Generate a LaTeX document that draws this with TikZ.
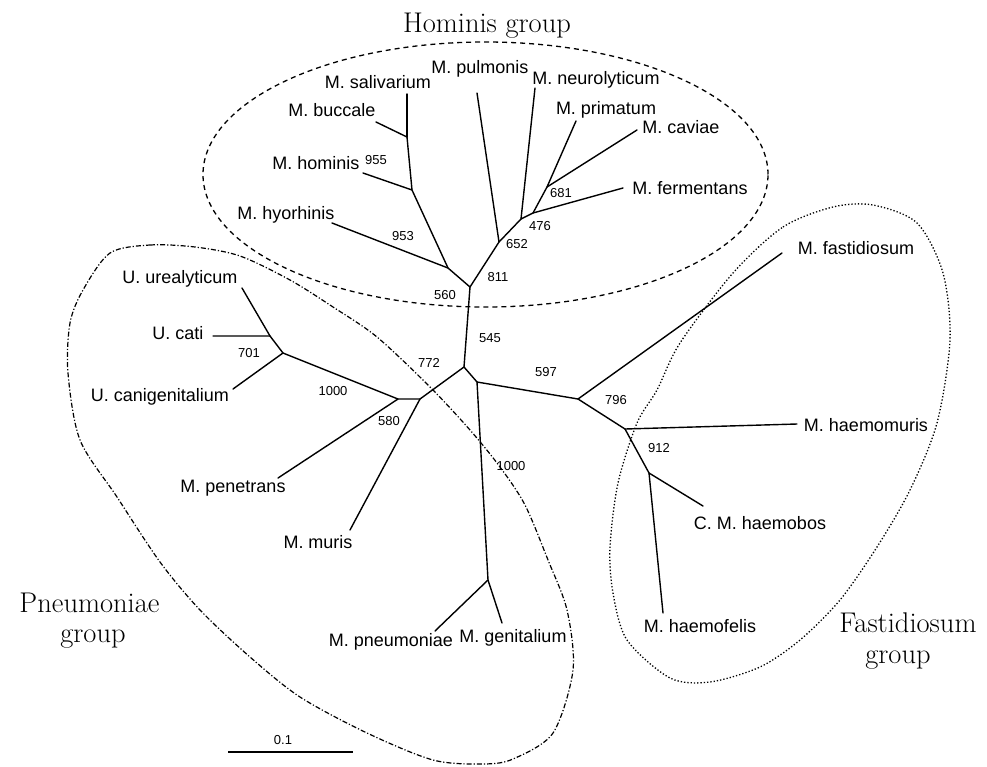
\documentclass[tikz,border=0pt]{standalone}
\usepackage{fontspec}
\newfontfamily\lab{Liberation Sans}
\begin{document}
\begin{tikzpicture}[x=1pt,y=-1pt,
  br/.style={line width=1.4pt, line cap=round, line join=round},
  leaf/.style={font=\lab\fontsize{18}{20}\selectfont, inner sep=0pt, text height=13pt, text depth=0pt},
  bs/.style={font=\lab\fontsize{13}{15}\selectfont, inner sep=0pt, text height=9.4pt, text depth=0pt},
  grp/.style={font=\fontsize{28.5}{31}\selectfont, inner sep=0pt, anchor=base},
  homline/.style={line width=1.3pt, dash pattern=on 5pt off 4pt},
  pneline/.style={line width=1.2pt, dash pattern=on 5pt off 2pt on 1.2pt off 2pt},
  fasline/.style={line width=1.3pt, dash pattern=on 1.3pt off 2pt}]
\useasboundingbox (0,0) rectangle (987,766);
\fill[white] (0,0) rectangle (987,766);

% group outlines
\draw[homline] (485.5,174.5) ellipse [x radius=282.5pt, y radius=132.5pt];
\draw[pneline] plot[smooth cycle] coordinates {(110,253) (150,245) (195,247) (240,256) (290,280) (333,307) (377,337) (430,387) (470,430) (500,467) (525,505) (548,560) (567,610) (573,670) (553,733) (513,759) (483,764) (433,760) (367,733) (300,697) (250,657) (200,610) (160,562) (117,497) (80,440) (68,373) (70,323) (83,290)};
\draw[fasline] plot[smooth cycle] coordinates {(733,273) (783,227) (833,207) (873,205) (917,223) (943,273) (950,340) (937,423) (910,490) (877,547) (840,600) (800,640) (760,667) (710,682) (670,678) (627,640) (613,593) (610,547) (618,483) (637,423) (657,390) (680,343)};

% junctions and leaf ends
\coordinate (j560) at (470,287);
\coordinate (j953) at (448,268);
\coordinate (j955) at (412,190);
\coordinate (jbuc) at (407,137);
\coordinate (ehyo) at (332,223);
\coordinate (ehom) at (363,173);
\coordinate (ebuc) at (376,122);
\coordinate (esal) at (407,94);
\coordinate (j652) at (499,242);
\coordinate (epul) at (477,93);
\coordinate (j476) at (521,219);
\coordinate (eneu) at (535,88);
\coordinate (jfer) at (533,213);
\coordinate (efer) at (623,188);
\coordinate (j681) at (547,187);
\coordinate (epri) at (576,121);
\coordinate (ecav) at (637,130);
\coordinate (j772) at (464,367);
\coordinate (jc) at (477,382);
\coordinate (j597) at (578,399);
\coordinate (jpg) at (488,580);
\coordinate (epne) at (435,631);
\coordinate (egen) at (502,623);
\coordinate (j580) at (420,399);
\coordinate (j1000) at (398,399);
\coordinate (j701) at (283,353);
\coordinate (jcat) at (270,336);
\coordinate (eure) at (242,288);
\coordinate (ecat) at (213,336);
\coordinate (ecan) at (233,389);
\coordinate (epen) at (278,478);
\coordinate (emur) at (350,530);
\coordinate (efas) at (782,253);
\coordinate (j796) at (625,429);
\coordinate (emus) at (797,424);
\coordinate (j912) at (649,473);
\coordinate (ehbo) at (703,506);
\coordinate (ehfe) at (663,613);

% branches
\draw[br] (j560) -- (j953) -- (ehyo);
\draw[br] (j953) -- (j955) -- (ehom);
\draw[br] (j955) -- (jbuc) -- (ebuc);
\draw[br] (jbuc) -- (esal);
\draw[br] (j560) -- (j652) -- (epul);
\draw[br] (j652) -- (j476) -- (eneu);
\draw[br] (j476) -- (jfer) -- (efer);
\draw[br] (jfer) -- (j681) -- (epri);
\draw[br] (j681) -- (ecav);
\draw[br] (j560) -- (j772) -- (jc) -- (j597);
\draw[br] (jc) -- (jpg) -- (epne);
\draw[br] (jpg) -- (egen);
\draw[br] (j772) -- (j580) -- (emur);
\draw[br] (j580) -- (j1000) -- (epen);
\draw[br] (j1000) -- (j701) -- (ecan);
\draw[br] (j701) -- (jcat) -- (ecat);
\draw[br] (jcat) -- (eure);
\draw[br] (j597) -- (efas);
\draw[br] (j597) -- (j796) -- (emus);
\draw[br] (j796) -- (j912) -- (ehbo);
\draw[br] (j912) -- (ehfe);

% leaf labels
\node[leaf] (sal) at (378,82) {M. salivarium};
\node[leaf] (buc) at (332,110) {M. buccale};
\node[leaf] (hom) at (316,163) {M. hominis};
\node[leaf] (hyo) at (286,213) {M. hyorhinis};
\node[leaf] (pul) at (480,67) {M. pulmonis};
\node[leaf] (neu) at (596,78) {M. neurolyticum};
\node[leaf] (pri) at (606,108) {M. primatum};
\node[leaf] (cav) at (681,127) {M. caviae};
\node[leaf] (fer) at (690,188) {M. fermentans};
\node[leaf] (ure) at (180,277) {U. urealyticum};
\node[leaf] (cat) at (178,333) {U. cati};
\node[leaf] (can) at (160,395) {U. canigenitalium};
\node[leaf] (pen) at (233,486) {M. penetrans};
\node[leaf] (mur) at (318,542) {M. muris};
\node[leaf] (pne) at (391,640) {M. pneumoniae};
\node[leaf] (gen) at (513,636) {M. genitalium};
\node[leaf] (fas) at (856,248) {M. fastidiosum};
\node[leaf] (mus) at (866,425) {M. haemomuris};
\node[leaf] (hbo) at (760,523) {C. M. haemobos};
\node[leaf] (hfe) at (700,626) {M. haemofelis};

% bootstrap values
\node[bs] (b955) at (376,160) {955};
\node[bs] (b953) at (403,236) {953};
\node[bs] (b560) at (445,295) {560};
\node[bs] (b811) at (498,277) {811};
\node[bs] (b652) at (517,244) {652};
\node[bs] (b476) at (540,226) {476};
\node[bs] (b681) at (561,193) {681};
\node[bs] (b545) at (490,338) {545};
\node[bs] (b772) at (429,363) {772};
\node[bs] (b597) at (546,372) {597};
\node[bs] (b1000c) at (511,466) {1000};
\node[bs] (b701) at (249,353) {701};
\node[bs] (b1000l) at (333,391) {1000};
\node[bs] (b580) at (389,421) {580};
\node[bs] (b796) at (616,400) {796};
\node[bs] (b912) at (659,448) {912};

% group titles
\node[grp] (ho) at (487,32) {Hominis group};
\node[grp] (pn1) at (89.5,612) {Pneumoniae};
\node[grp] (pn2) at (93,642) {group};
\node[grp] (fa1) at (908,632) {Fastidiosum};
\node[grp] (fa2) at (898,663) {group};

% scale bar
\coordinate (sb1) at (228,752);
\coordinate (sb2) at (353,752);
\draw[line width=1.4pt] (sb1) -- (sb2);
\node[bs] (sbl) at (283,740) {0.1};
\end{tikzpicture}
\end{document}
